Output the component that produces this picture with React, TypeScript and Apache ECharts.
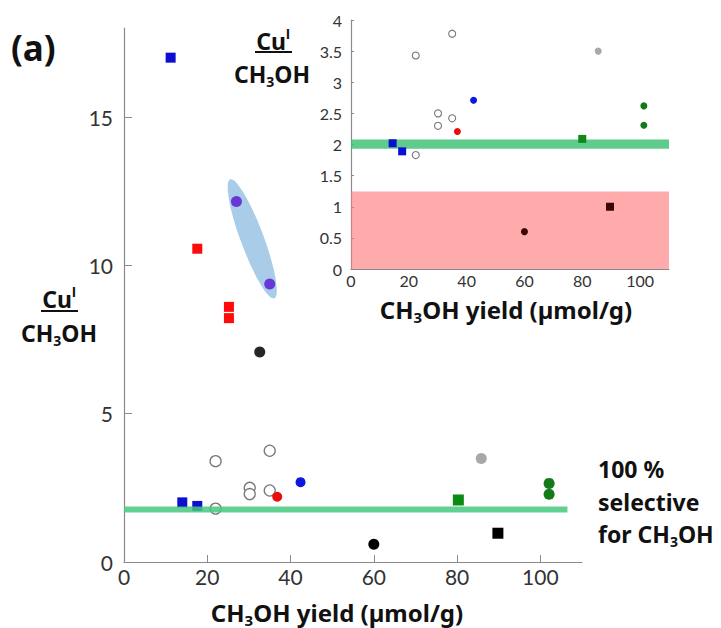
import React, { useEffect, useRef } from "react";
import * as echarts from "echarts";

// ---------- data: main plot ----------
const mainXTicks = [0, 20, 40, 60, 80, 100];
const mainYTicks = [0, 5, 10, 15];
const mainBlueSquares = [[11.2, 17.0], [14.0, 2.01], [17.6, 1.89]];
const mainRedSquares = [[17.6, 10.56], [25.2, 8.6], [25.2, 8.22]];
const mainPurpleCircles = [[27.0, 12.15], [35.0, 9.37]];
const mainDarkCircles = [[32.6, 7.08]];
const mainBlackCircles = [[60.0, 0.6]];
const mainOpenCircles = [[22.0, 3.4], [35.0, 3.75], [30.2, 2.5], [30.2, 2.29], [35.0, 2.41], [22.0, 1.8]];
const mainRedCircles = [[36.8, 2.2]];
const mainBlueCircles = [[42.4, 2.69]];
const mainGreenSquares = [[80.3, 2.09]];
const mainGrayCircles = [[85.8, 3.49]];
const mainGreenCircles = [[102.1, 2.65], [102.1, 2.28]];
const mainBlackSquares = [[89.8, 0.97]];
const mainSelectiveLine = [[0, 1.77], [106.5, 1.77]];
const ellipseEnds = [[25.5, 12.9, 36.1, 8.89]];

// ---------- data: inset ----------
const insetXTicks = [0, 20, 40, 60, 80, 100];
const insetOpenCircles = [[22.4, 3.43], [35.0, 3.78], [30.1, 2.5], [30.1, 2.3], [35.0, 2.42], [22.4, 1.83]];
const insetGrayCircles = [[85.5, 3.5]];
const insetBlueCircles = [[42.4, 2.71]];
const insetGreenCircles = [[101.3, 2.62], [101.3, 2.31]];
const insetRedCircles = [[36.8, 2.21]];
const insetBlueSquares = [[14.4, 2.02], [17.7, 1.89]];
const insetGreenSquares = [[80.0, 2.09]];
const insetDarkRedCircles = [[60.0, 0.6]];
const insetDarkRedSquares = [[89.6, 1.0]];
const insetBand = [1.93, 2.08];
const insetRedZone = [0, 1.245];

const FONT = "Lato";
const BFONT = "Noto Sans";

function sc(name, data, symbol, size, color, xi, style = {}) {
  return {
    name,
    type: "scatter",
    xAxisIndex: xi,
    yAxisIndex: xi,
    data,
    symbol,
    symbolSize: size,
    itemStyle: { color, opacity: 1, ...style },
    z: 3,
  };
}

function richLabel(text, x, y, align, size) {
  const base = { fontFamily: BFONT, fontWeight: 700, fill: "#111", lineHeight: size + 6 };
  return {
    type: "text",
    x,
    y,
    style: {
      text,
      ...base,
      fontSize: size,
      align,
      verticalAlign: "middle",
      rich: {
        n: { ...base, fontSize: size, verticalAlign: "middle" },
        s: { ...base, fontSize: Math.round(size * 0.62), verticalAlign: "bottom" },
        p: { ...base, fontFamily: "Liberation Sans", fontSize: Math.round(size * 0.62), verticalAlign: "top" },
      },
    },
  };
}

export default function App() {
  const ref = useRef(null);
  useEffect(() => {
    const chart = echarts.init(ref.current, null, { renderer: "svg" });
    const axisLine = { show: true, lineStyle: { color: "#8a8a8a", width: 1.2 } };
    const option = {
      animation: false,
      backgroundColor: "#fff",
      grid: [
        { left: 124, top: 28, width: 458, height: 534 },
        { left: 351, top: 20, width: 318, height: 249 },
      ],
      xAxis: [
        {
          gridIndex: 0, type: "value", min: 0, max: 110,
          splitLine: { show: false }, axisLine,
          axisTick: { show: true, inside: true, length: 7, customValues: mainXTicks, lineStyle: { color: "#8a8a8a" } },
          axisLabel: { customValues: mainXTicks, fontFamily: FONT, fontSize: 21, color: "#333", margin: 4 },
        },
        {
          gridIndex: 1, type: "value", min: 0, max: 110,
          splitLine: { show: false }, axisLine,
          axisTick: { show: false },
          axisLabel: { customValues: insetXTicks, fontFamily: FONT, fontSize: 16, color: "#333", margin: 3 },
        },
      ],
      yAxis: [
        {
          gridIndex: 0, type: "value", min: 0, max: 18,
          splitLine: { show: false }, axisLine,
          axisTick: { show: true, inside: true, length: 8, customValues: mainYTicks, lineStyle: { color: "#8a8a8a" } },
          axisLabel: { customValues: mainYTicks, fontFamily: FONT, fontSize: 21, color: "#333", margin: 11 },
        },
        {
          gridIndex: 1, type: "value", min: 0, max: 4, interval: 0.5,
          splitLine: { show: false }, axisLine,
          axisTick: { show: true, inside: true, length: 3, lineStyle: { color: "#8a8a8a" } },
          axisLabel: { fontFamily: FONT, fontSize: 16, color: "#333", margin: 9 },
        },
      ],
      series: [
        {
          type: "custom",
          xAxisIndex: 0,
          yAxisIndex: 0,
          data: ellipseEnds,
          encode: { x: [0, 2], y: [1, 3] },
          z: 1,
          renderItem: (params, api) => {
            const p1 = api.coord([api.value(0), api.value(1)]);
            const p2 = api.coord([api.value(2), api.value(3)]);
            const dx = p2[0] - p1[0];
            const dy = p2[1] - p1[1];
            const len = Math.sqrt(dx * dx + dy * dy);
            return {
              type: "ellipse",
              x: (p1[0] + p2[0]) / 2,
              y: (p1[1] + p2[1]) / 2,
              rotation: -Math.atan2(dy, dx),
              shape: { cx: 0, cy: 0, rx: len / 2, ry: 11.5 },
              style: { fill: "#a9cce9" },
            };
          },
        },
        sc("blueSq", mainBlueSquares, "rect", 10, "#0a0fd0", 0),
        sc("redSq", mainRedSquares, "rect", 10, "#ff0a0a", 0),
        sc("purple", mainPurpleCircles, "circle", 11, "#6a36d6", 0),
        sc("dark", mainDarkCircles, "circle", 11, "#262626", 0),
        sc("black", mainBlackCircles, "circle", 11, "#000", 0),
        sc("open", mainOpenCircles, "circle", 11, "#fff", 0, { borderColor: "#777", borderWidth: 1.3 }),
        sc("redC", mainRedCircles, "circle", 10, "#e80c0c", 0),
        sc("blueC", mainBlueCircles, "circle", 10, "#0a18e0", 0),
        sc("greenSq", mainGreenSquares, "rect", 11, "#0c8a14", 0),
        sc("grayC", mainGrayCircles, "circle", 11, "#a8a8a8", 0),
        sc("greenC", mainGreenCircles, "circle", 11, "#137a17", 0),
        sc("blackSq", mainBlackSquares, "rect", 11, "#000", 0),
        {
          type: "line",
          xAxisIndex: 0,
          yAxisIndex: 0,
          data: mainSelectiveLine,
          symbol: "none",
          lineStyle: { color: "rgba(70,200,125,0.85)", width: 6 },
          z: 5,
        },
        // inset
        {
          type: "scatter",
          xAxisIndex: 1,
          yAxisIndex: 1,
          data: [],
          markArea: {
            silent: true,
            itemStyle: { color: "rgba(255,120,120,0.62)" },
            data: [[{ xAxis: 0, yAxis: insetRedZone[0] }, { xAxis: 110, yAxis: insetRedZone[1] }]],
          },
          z: 1,
        },
        sc("iOpen", insetOpenCircles, "circle", 7, "#fff", 1, { borderColor: "#777", borderWidth: 1.1 }),
        sc("iGray", insetGrayCircles, "circle", 7, "#a8a8a8", 1),
        sc("iBlue", insetBlueCircles, "circle", 7, "#0a18e0", 1),
        sc("iGreen", insetGreenCircles, "circle", 7, "#137a17", 1),
        sc("iRed", insetRedCircles, "circle", 7, "#e80c0c", 1),
        sc("iBlueSq", insetBlueSquares, "rect", 8, "#0a0fd0", 1),
        sc("iGreenSq", insetGreenSquares, "rect", 8, "#0c8a14", 1),
        sc("iDrC", insetDarkRedCircles, "circle", 7, "#3d0505", 1),
        sc("iDrSq", insetDarkRedSquares, "rect", 8, "#3d0505", 1),
        {
          type: "scatter",
          xAxisIndex: 1,
          yAxisIndex: 1,
          data: [],
          z: 6,
          markArea: {
            silent: true,
            itemStyle: { color: "rgba(60,192,115,0.82)" },
            data: [[{ xAxis: 0, yAxis: insetBand[0] }, { xAxis: 110, yAxis: insetBand[1] }]],
          },
        },
      ],
      graphic: [
        { type: "text", x: 11, y: 47, style: { text: "(a)", fontFamily: BFONT, fontSize: 35, fontWeight: 700, fill: "#111", align: "left", verticalAlign: "middle" } },
        // top fraction
        richLabel("{n|Cu}{p|I}", 273, 41, "center", 23),
        { type: "line", shape: { x1: 255, y1: 52, x2: 292, y2: 52 }, style: { stroke: "#111", lineWidth: 2 } },
        richLabel("{n|CH}{s|3}{n|OH}", 272, 74, "center", 23),
        // left fraction
        richLabel("{n|Cu}{p|I}", 59, 299, "center", 23),
        { type: "line", shape: { x1: 41, y1: 311, x2: 78, y2: 311 }, style: { stroke: "#111", lineWidth: 2 } },
        richLabel("{n|CH}{s|3}{n|OH}", 59, 333, "center", 23),
        // axis titles
        richLabel("{n|CH}{s|3}{n|OH yield (µmol/g)}", 337, 612, "center", 24),
        richLabel("{n|CH}{s|3}{n|OH yield (µmol/g)}", 506, 309, "center", 24),
        // annotation
        richLabel("{n|100 %}", 598, 469, "left", 23),
        richLabel("{n|selective}", 598, 502, "left", 23),
        richLabel("{n|for CH}{s|3}{n|OH}", 598, 534, "left", 23),
      ],
    };
    chart.setOption(option);
    return () => chart.dispose();
  }, []);
  return <div ref={ref} style={{ position: "absolute", left: 0, top: 0, width: 721, height: 628 }} />;
}
